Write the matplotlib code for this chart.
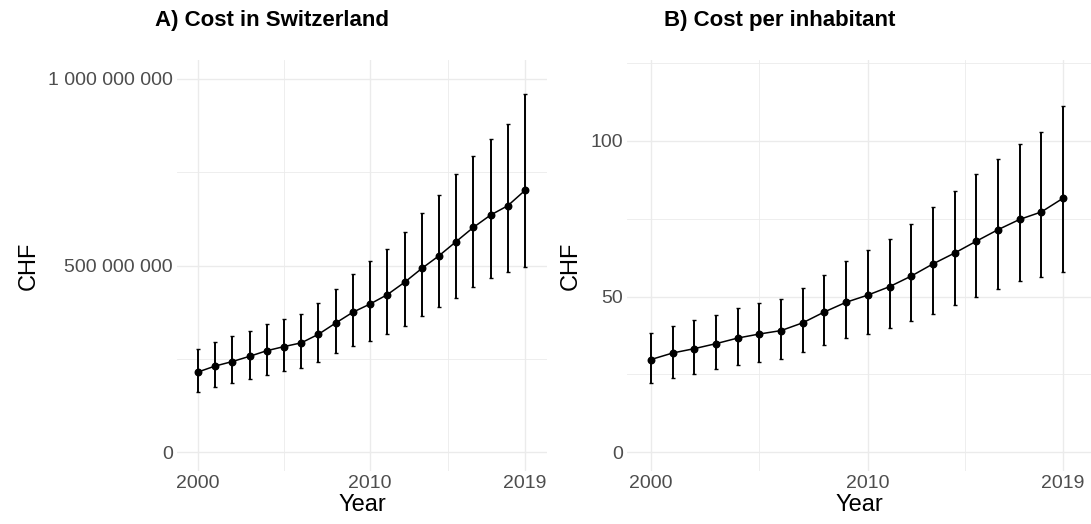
import numpy as np
import matplotlib.pyplot as plt
from matplotlib.ticker import FuncFormatter

plt.rcParams['font.family'] = ['Liberation Sans', 'DejaVu Sans']

years = np.arange(2000, 2020)

# total cost (millions CHF): estimate, lower and upper bound
cost_total = [215, 231, 243, 257, 272, 283, 293, 316, 346, 375,
              397, 422, 455, 492, 526, 564, 602, 635, 660, 701]
cost_total_lo = [161, 175, 185, 196, 208, 217, 227, 243, 265, 284,
                 299, 316, 339, 364, 389, 414, 442, 466, 482, 497]
cost_total_hi = [276, 296, 310, 326, 343, 357, 370, 399, 438, 477,
                 512, 545, 589, 640, 690, 745, 793, 838, 878, 958]

# cost per inhabitant (CHF)
cost_inhab = [29.8, 31.9, 33.3, 34.9, 36.7, 38.0, 39.1, 41.6, 45.1, 48.2,
              50.5, 53.2, 56.6, 60.5, 64.0, 67.8, 71.5, 74.8, 77.2, 81.6]
cost_inhab_lo = [22.3, 24.0, 25.3, 26.7, 28.1, 29.1, 30.1, 32.1, 34.4, 36.7,
                 38.1, 39.9, 42.2, 44.5, 47.2, 49.8, 52.6, 55.0, 56.4, 57.9]
cost_inhab_hi = [38.4, 40.7, 42.4, 44.2, 46.4, 48.0, 49.4, 52.7, 56.9, 61.5,
                 65.0, 68.5, 73.4, 78.8, 83.9, 89.4, 94.3, 98.9, 102.9, 111.1]

x_breaks = [2000, 2010, 2019]
x_minor = [2005, 2014.5]

W, H = 1091, 524
fig = plt.figure(figsize=(W / 100, H / 100), dpi=100)


def px_axes(left, right, top, bottom):
    return fig.add_axes([left / W, 1 - bottom / H, (right - left) / W, (bottom - top) / H])


def style(ax, yticks, yminor):
    ax.set_xticks(x_breaks)
    ax.set_xticks(x_minor, minor=True)
    ax.set_yticks(yticks)
    ax.set_yticks(yminor, minor=True)
    ax.grid(which='major', color='#EBEBEB', linewidth=1.0, zorder=0)
    ax.grid(which='minor', color='#EBEBEB', linewidth=0.6, zorder=0)
    ax.set_axisbelow(True)
    for s in ax.spines.values():
        s.set_visible(False)
    ax.tick_params(which='both', length=0, labelsize=14, labelcolor='#4D4D4D', pad=3)
    ax.set_xlabel('Year', fontsize=17, labelpad=1)
    ax.set_ylabel('CHF', fontsize=17, labelpad=6)


def draw(ax, y, lo, hi):
    y = np.array(y)
    err = [y - np.array(lo), np.array(hi) - y]
    ax.errorbar(years, y, yerr=err, fmt='none', ecolor='black', elinewidth=1.4,
                capsize=1.2, capthick=1.0, zorder=2)
    ax.plot(years, y, color='black', linewidth=1.1, zorder=3)
    ax.scatter(years, y, color='black', s=22, zorder=4)


# A) total cost
ax1 = px_axes(177, 547, 60, 471)
draw(ax1, np.array(cost_total) * 1e6, np.array(cost_total_lo) * 1e6, np.array(cost_total_hi) * 1e6)
style(ax1, [0, 5e8, 1e9], [2.5e8, 7.5e8])
ax1.set_xlim(2000 - 21 / 17.2, 2019 + 22 / 17.2)
ax1.set_ylim(-5e7, 1.05e9)
ax1.yaxis.set_major_formatter(FuncFormatter(lambda v, p: f'{int(v):,}'.replace(',', ' ')))

# B) cost per inhabitant
ax2 = px_axes(627, 1091, 60, 471)
draw(ax2, cost_inhab, cost_inhab_lo, cost_inhab_hi)
style(ax2, [0, 50, 100], [25, 75, 125])
ax2.set_xlim(2000 - 24 / 21.7, 2019 + 28 / 21.7)
ax2.set_ylim(-6, 126)

fig.text(272 / W, 1 - 26 / H, 'A) Cost in Switzerland', ha='center', va='baseline',
         fontsize=16, fontweight='bold')
fig.text(780 / W, 1 - 26 / H, 'B) Cost per inhabitant', ha='center', va='baseline',
         fontsize=16, fontweight='bold')

fig.savefig('out.png', dpi=100)
